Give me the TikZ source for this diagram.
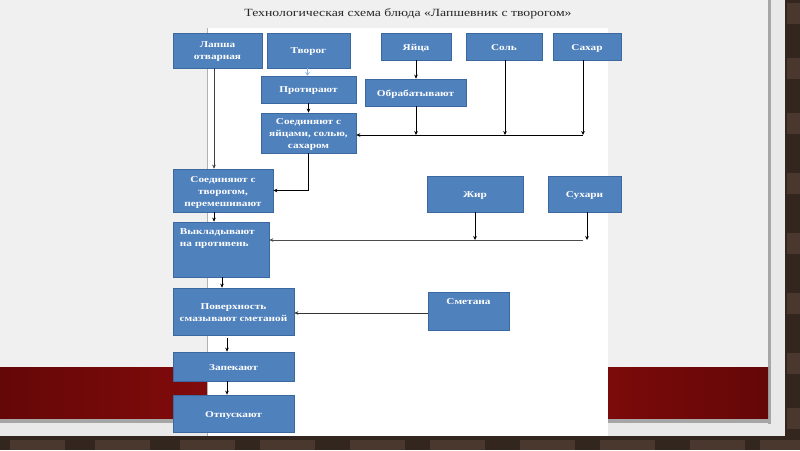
\documentclass[tikz,border=0pt]{standalone}
\usepackage{fontspec}
\setmainfont{Liberation Serif}[FakeStretch=1.25]
\usetikzlibrary{arrows.meta,calc}
\definecolor{boxblue}{HTML}{4F81BD}
\definecolor{boxedge}{HTML}{3B689E}
\definecolor{brick}{HTML}{33261F}
\definecolor{brickb}{HTML}{4A382E}
\definecolor{slidebg}{HTML}{F0F0F0}
\definecolor{redL}{HTML}{650707}
\definecolor{redM}{HTML}{9A0E10}
\definecolor{lightarrow}{HTML}{8DB3E2}
\newcommand\flowbox[6]{%
  \node[box, minimum width=#3, minimum height=#4] (#1) at (#2) {};
  \node[boxtext, align=center] (#1-t) at ([yshift=-1.5pt]#1.center) {#5};}
\begin{document}
\begin{tikzpicture}[x=1pt,y=-1pt,
  box/.style={draw=boxedge, line width=0.7pt, fill=boxblue, inner sep=0pt},
  boxtext/.style={text=white, font=\bfseries\fontsize{9}{12}\selectfont, inner sep=0pt},
  arr/.style={draw=black, line width=0.6pt, -{Stealth[length=4pt,width=3.6pt]}},
]
\useasboundingbox (0,0) rectangle (800,450);
% background: brick, slide panel
\fill[brick] (0,0) rectangle (800,450);
\foreach \y in {0,55,110,170,230,290,350,405}{
  \fill[brickb] (787,\y+3) rectangle (800,\y+24);}
\foreach \x in {10,95,180,260,350,430,520,600,690,760}{
  \fill[brickb] (\x,440) rectangle (\x+55,450);}
\fill[slidebg!94!gray] (0,0) rectangle (785,436);
\fill[slidebg] (0,0) rectangle (768,418);
\fill[gray!70] (768,0) rectangle (771,424);
\fill[gray!70] (0,418) rectangle (771,423);
\shade[left color=redL, right color=redL, middle color=redM] (0,367) rectangle (768,418);
% white picture area
\fill[white] (207,28) rectangle (608,436);
\draw[gray!60, line width=0.5pt] (207,28) -- (207,436);
% title
\node[text=black!85, font=\fontsize{11}{13}\selectfont] (title) at (408,14)
  {Технологическая схема блюда «Лапшевник с творогом»};
% boxes
\flowbox{lapsha}{217.5,50.5}{89}{35}{Лапша\\отварная}{}
\flowbox{tvorog}{308.5,50.5}{83}{35}{Творог}{}
\flowbox{yaica}{416,46.5}{70}{27}{Яйца}{}
\flowbox{sol}{504,46.5}{76}{27}{Соль}{}
\flowbox{sahar}{587,46.5}{68}{27}{Сахар}{}
\flowbox{protir}{308.5,89.5}{95}{27}{Протирают}{}
\flowbox{obrab}{415.5,92.5}{101}{27}{Обрабатывают}{}
\flowbox{soed1}{308.5,133}{95}{40}{Соединяют с\\яйцами, солью,\\сахаром}{}
\flowbox{soed2}{223,190.5}{100}{43}{Соединяют с\\творогом,\\перемешивают}{}
\flowbox{zhir}{475,194}{96}{36}{Жир}{}
\flowbox{suhari}{584.5,194}{73}{36}{Сухари}{}
\node[box, minimum width=96, minimum height=55] (vykl) at (221,249.5) {};
\node[boxtext, anchor=north west, align=left] (vykl-t) at ([xshift=7pt,yshift=-7pt]vykl.north west) {Выкладывают\\на противень};
\flowbox{pover}{233.5,311.5}{121}{47}{Поверхность\\смазывают сметаной}{}
\node[box, minimum width=81, minimum height=38] (smetana) at (468.5,311) {};
\node[boxtext, anchor=north] (smetana-t) at ([yshift=-7pt]smetana.north) {Сметана};
\flowbox{zapek}{233.5,366.5}{121}{29}{Запекают}{}
\flowbox{otpusk}{233.5,413.5}{121}{37}{Отпускают}{}
% junction coordinates
\coordinate (j1) at (583,135);
\coordinate (j2) at (583,240);
% connectors
\draw[arr, draw=black!75] ([xshift=-3.5pt]lapsha.south) -- ([xshift=-3.5pt]lapsha.south |- soed2.north);
\draw[draw=lightarrow, line width=0.6pt, -{Straight Barb[length=3pt,width=4pt]}] ([xshift=-1pt]tvorog.south) -- ([xshift=-1pt]tvorog.south |- protir.north);
\draw[arr] (protir.south) -- (soed1.north);
\draw[arr] (yaica.south) -- (yaica.south |- obrab.north);
\draw[arr] ([xshift=0.5pt]obrab.south) -- ([xshift=0.5pt]obrab.south |- j1);
\draw[arr] ([xshift=1pt]sol.south) -- ([xshift=1pt]sol.south |- j1);
\draw[arr] ([xshift=-4pt]sahar.south) -- (j1);
\draw[arr] (j1) -- (j1 -| soed1.east);
\draw[arr] (soed1.south) |- (soed2.east);
\draw[arr] ([xshift=-9pt]soed2.south) -- ([xshift=-9pt]soed2.south |- vykl.north);
\draw[arr] (zhir.south) -- (zhir.south |- j2);
\draw[arr] ([xshift=2.5pt]suhari.south) -- ([xshift=2.5pt]suhari.south |- j2);
\draw[arr, draw=black!70] (j2) -- (j2 -| vykl.east);
\draw[arr] ([xshift=1pt]vykl.south) -- ([xshift=-11.5pt]pover.north);
\draw[arr, draw=black!80] ([yshift=-2pt]smetana.west) -- ([yshift=-2pt]smetana.west -| pover.east);
\draw[arr] ([xshift=-6.5pt,yshift=-3pt]pover.south) -- ([xshift=-6.5pt]zapek.north);
\draw[arr] ([xshift=-6.5pt]zapek.south) -- ([xshift=-6.5pt]otpusk.north);
\end{tikzpicture}
\end{document}
